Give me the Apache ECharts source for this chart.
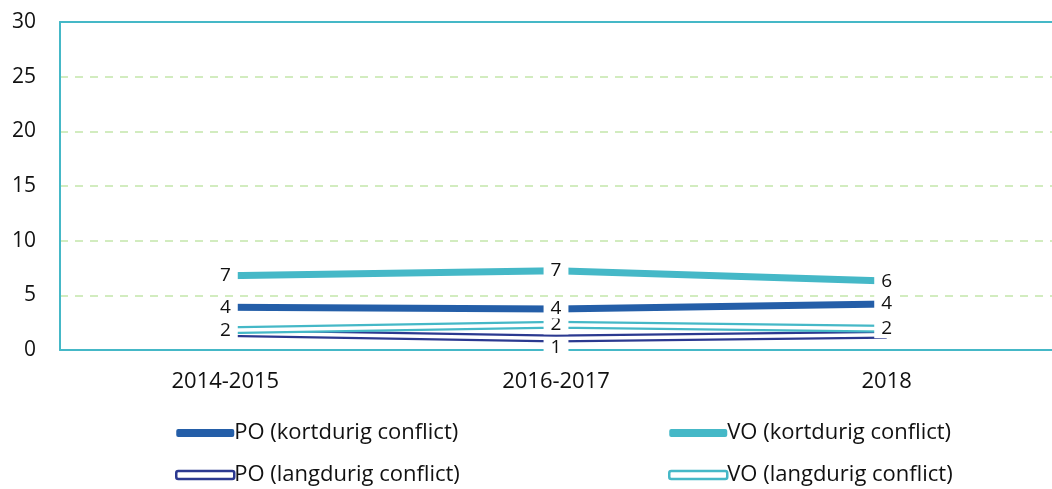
<!DOCTYPE html>
<html>
<head>
<meta charset="utf-8">
<script src="https://cdn.jsdelivr.net/npm/echarts@6/dist/echarts.min.js"></script>
<style>
  html, body { margin: 0; padding: 0; background: #fff; }
  #main { width: 1052px; height: 489px; }
</style>
</head>
<body>
<div id="main"></div>
<script>
var categories = ['2014-2015', '2016-2017', '2018'];
var poKort = [3.9, 3.75, 4.2];
var voKort = [6.8, 7.25, 6.3];
var poLang = [1.55, 1.05, 1.4];
var voLang = [1.8, 2.3, 1.95];
// which points carry a value label (the rest are hidden in the original)
var poLangLabels = [false, true, false];
var voLangLabels = [true, true, true];

var teal = '#45b8c7';
var navy = '#2b3990';
var font = 'Open Sans';
var myChart = echarts.init(document.getElementById('main'));

var labelStyle = {
    show: true,
    position: 'inside',
    color: '#111',
    fontFamily: font,
    fontSize: 19,
    backgroundColor: '#fff',
    padding: [0, 7],
    formatter: function (p) { return Math.round(p.value); }
};

function withLabels(data, flags) {
    return data.map(function (v, i) {
        return { value: v, label: { show: flags[i] } };
    });
}

// outer coloured stroke; labels ride on an invisible tiny symbol
function lineSeries(name, data, color, width, label, z) {
    return {
        name: name,
        type: 'line',
        data: data,
        symbol: 'circle',
        symbolSize: 0.1,
        itemStyle: { color: color },
        lineStyle: { color: color, width: width },
        label: label,
        silent: true,
        z: z
    };
}

// white core drawn over a line to make it look hollow
function innerLine(data, width, z) {
    return {
        type: 'line',
        data: data,
        symbol: 'none',
        lineStyle: { color: '#fff', width: width },
        silent: true,
        z: z
    };
}

var legendBase = {
    orient: 'vertical',
    top: 422,
    padding: 0,
    itemWidth: 58,
    itemHeight: 8,
    itemGap: 20,
    icon: 'roundRect',
    textStyle: { fontFamily: font, fontSize: 22, lineHeight: 22, color: '#111', padding: [0, 0, 0, -5] }
};

var option = {
    animation: false,
    grid: { left: 60, right: 0, top: 22, bottom: 139 },
    legend: [
        Object.assign({}, legendBase, {
            left: 175,
            data: [
                { name: 'PO (kortdurig conflict)' },
                { name: 'PO (langdurig conflict)', itemStyle: { color: '#fff', borderColor: navy, borderWidth: 2.5 } }
            ]
        }),
        Object.assign({}, legendBase, {
            left: 668,
            data: [
                { name: 'VO (kortdurig conflict)' },
                { name: 'VO (langdurig conflict)', itemStyle: { color: '#fff', borderColor: teal, borderWidth: 2.5 } }
            ]
        })
    ],
    xAxis: [
        {
            type: 'category',
            data: categories,
            axisLine: { lineStyle: { color: teal, width: 2 } },
            axisTick: { show: false },
            axisLabel: { fontFamily: font, fontSize: 22, color: '#111', margin: 21 }
        },
        {
            type: 'category',
            position: 'top',
            data: categories,
            axisLine: { lineStyle: { color: teal, width: 2 } },
            axisTick: { show: false },
            axisLabel: { show: false }
        }
    ],
    yAxis: {
        type: 'value',
        min: 0,
        max: 30,
        interval: 5,
        axisLine: { show: true, lineStyle: { color: teal, width: 2 } },
        axisTick: { show: false },
        axisLabel: { fontFamily: font, fontSize: 21, color: '#111', margin: 24 },
        splitLine: { lineStyle: { color: '#c3e6ab', type: [8, 7], width: 1.5 } }
    },
    series: [
        lineSeries('PO (langdurig conflict)', withLabels(poLang, poLangLabels), navy, 8,
            Object.assign({}, labelStyle, { position: 'bottom', distance: 0 }), 2),
        innerLine(poLang, 3.5, 2),
        lineSeries('VO (langdurig conflict)', withLabels(voLang, voLangLabels), teal, 8, labelStyle, 3),
        innerLine(voLang, 3.5, 3),
        lineSeries('PO (kortdurig conflict)', poKort, '#245ea8', 7, labelStyle, 4),
        lineSeries('VO (kortdurig conflict)', voKort, teal, 7, labelStyle, 4)
    ]
};
myChart.setOption(option);
</script>
</body>
</html>
